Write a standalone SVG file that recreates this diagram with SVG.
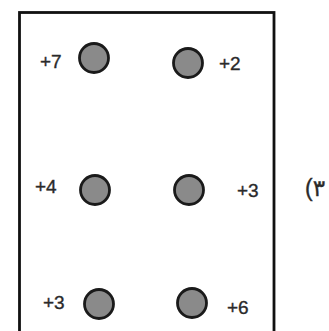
<svg xmlns="http://www.w3.org/2000/svg" width="329" height="331" viewBox="0 0 329 331">
<style>
.dot{fill:#8a8a8a;stroke:#1a1a1a;stroke-width:2.8}
.lbl{font-family:"Liberation Sans","DejaVu Sans",sans-serif;font-size:19px;fill:#2a2a2a;stroke:#2a2a2a;stroke-width:0.35}
</style>
<rect width="329" height="331" fill="#fff"/>
<g id="frame"><rect x="19.5" y="12.5" width="254.5" height="330" fill="none" stroke="#111" stroke-width="2.8"/></g>
<g id="connectors"></g>
<g id="n1"><circle class="dot" cx="94" cy="58" r="14.5"/><text class="lbl" x="40" y="68">+7</text></g>
<g id="n2"><circle class="dot" cx="188" cy="63" r="14.5"/><text class="lbl" x="219" y="70">+2</text></g>
<g id="n3"><circle class="dot" cx="95" cy="190" r="14.5"/><text class="lbl" x="35" y="193">+4</text></g>
<g id="n4"><circle class="dot" cx="189" cy="190" r="14.5"/><text class="lbl" x="237" y="197">+3</text></g>
<g id="n5"><circle class="dot" cx="99" cy="304" r="14.5"/><text class="lbl" x="43" y="309">+3</text></g>
<g id="n6"><circle class="dot" cx="192" cy="303" r="14.5"/><text class="lbl" x="227" y="314">+6</text></g>
<text class="lbl" x="305" y="196" style="font-size:23px;direction:ltr;unicode-bidi:bidi-override">(٣</text>
</svg>
